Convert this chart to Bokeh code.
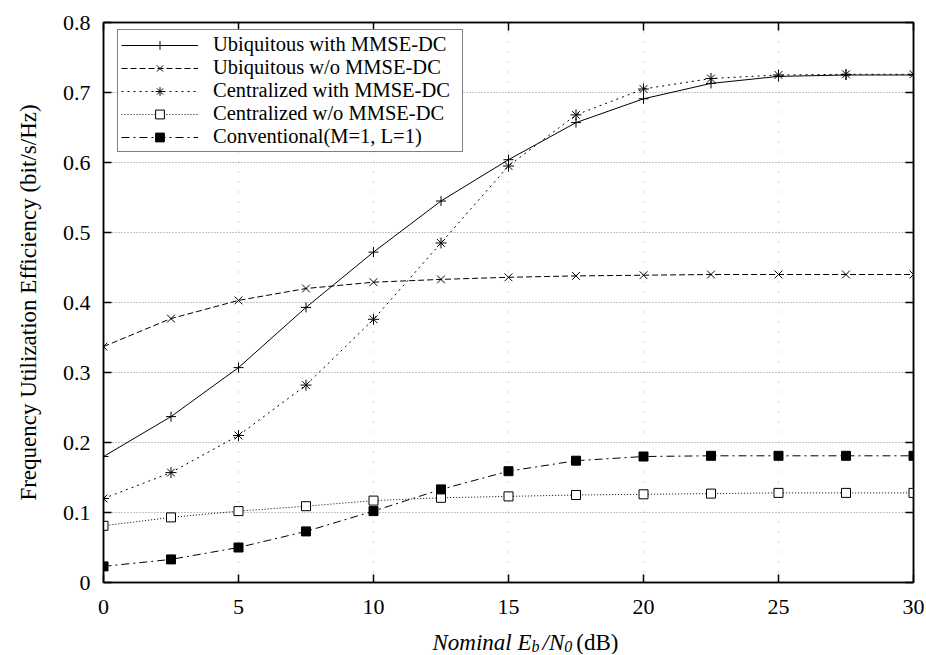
from bokeh.plotting import figure
from bokeh.layouts import column
from bokeh.models import Range1d, FixedTicker, LinearAxis, Legend, LegendItem
from bokeh.core.properties import value
from bokeh.embed import file_html
from bokeh.resources import INLINE

# ---------------- data ----------------
x_db = [0, 2.5, 5, 7.5, 10, 12.5, 15, 17.5, 20, 22.5, 25, 27.5, 30]
ubi_with = [0.180, 0.237, 0.307, 0.393, 0.472, 0.545, 0.604, 0.657, 0.691, 0.713, 0.723, 0.725, 0.725]
ubi_wo = [0.337, 0.377, 0.403, 0.420, 0.429, 0.433, 0.436, 0.438, 0.439, 0.440, 0.440, 0.440, 0.440]
cen_with = [0.120, 0.157, 0.210, 0.282, 0.376, 0.485, 0.595, 0.668, 0.705, 0.720, 0.725, 0.726, 0.726]
cen_wo = [0.081, 0.093, 0.102, 0.109, 0.117, 0.121, 0.123, 0.125, 0.126, 0.127, 0.128, 0.128, 0.128]
conventional = [0.023, 0.033, 0.050, 0.073, 0.102, 0.133, 0.159, 0.174, 0.180, 0.181, 0.181, 0.181, 0.181]

series_labels = ["Ubiquitous with MMSE-DC", "Ubiquitous w/o MMSE-DC",
                 "Centralized with MMSE-DC", "Centralized w/o MMSE-DC",
                 "Conventional(M=1, L=1)"]

x_ticks = [0, 5, 10, 15, 20, 25, 30]
y_ticks = [0, 0.1, 0.2, 0.3, 0.4, 0.5, 0.6, 0.7, 0.8]
y_tick_labels = ["0", "0.1", "0.2", "0.3", "0.4", "0.5", "0.6", "0.7", "0.8"]
y_axis_title = "Frequency Utilization Efficiency (bit/s/Hz)"
# x-axis title pieces: (text, is_subscript, italic)
x_title_parts = [("Nominal E", False, True), ("b", True, True), ("/N", False, True),
                 ("0", True, True), ("(dB)", False, False)]

FONT = "Liberation Serif"
W = 924

p = figure(width=W, height=624, output_backend="svg", toolbar_location=None,
           x_range=Range1d(x_ticks[0], x_ticks[-1]), y_range=Range1d(y_ticks[0], y_ticks[-1]),
           min_border_left=103, min_border_right=11, min_border_top=22, min_border_bottom=42)
p.background_fill_color = "white"
p.border_fill_color = "white"
p.outline_line_color = "black"
p.outline_line_width = 1.5

xa = p.xaxis[0]
ya = p.yaxis[0]
top_ax = LinearAxis()
right_ax = LinearAxis()
p.add_layout(top_ax, "above")
p.add_layout(right_ax, "right")

for ax, tk in ((xa, x_ticks), (top_ax, x_ticks), (ya, y_ticks), (right_ax, y_ticks)):
    ax.ticker = FixedTicker(ticks=tk)
    ax.major_tick_in = 8
    ax.major_tick_out = 0
    ax.minor_tick_line_color = None
    ax.axis_line_color = "black"
    ax.axis_line_width = 1.5
    ax.major_tick_line_color = "black"
    ax.major_tick_line_width = 1.5

for ax in (xa, ya):
    ax.major_label_text_font = FONT
    ax.major_label_text_font_size = "22px"
    ax.major_label_text_color = "black"
for ax, tk in ((top_ax, x_ticks), (right_ax, y_ticks)):
    ax.major_label_text_font_size = "0px"
    ax.major_label_standoff = 0
    ax.major_label_overrides = {t: "" for t in tk}

xa.major_label_standoff = 17
ya.major_label_standoff = 13
ya.major_label_overrides = {t: l for t, l in zip(y_ticks, y_tick_labels)}
ya.axis_label = y_axis_title
ya.axis_label_text_font = FONT
ya.axis_label_text_font_style = "normal"
ya.axis_label_text_font_size = "23px"
ya.axis_label_text_color = "black"
ya.axis_label_standoff = 19

# grid
p.xgrid.ticker = FixedTicker(ticks=x_ticks)
p.ygrid.ticker = FixedTicker(ticks=y_ticks)
p.ygrid.grid_line_color = "#8a8a8a"
p.ygrid.grid_line_dash = "1 2"
p.ygrid.grid_line_width = 1
p.xgrid.grid_line_color = "#b0b0b0"
p.xgrid.grid_line_dash = "1 9"
p.xgrid.grid_line_width = 1

# series
ys = [ubi_with, ubi_wo, cen_with, cen_wo, conventional]
dashes = ["solid", "6 3", "2 4", "1 2", "8 4 2 4"]
markers = ["cross", "x", "asterisk", "square", "square"]
sizes = [10, 11, 11, 9, 9]
fills = ["black", "black", "black", "white", "black"]

items = []
for y, d, m, s, f, lab in zip(ys, dashes, markers, sizes, fills, series_labels):
    r1 = p.line(x_db, y, line_color="black", line_width=1, line_dash=d)
    r2 = p.scatter(x_db, y, marker=m, size=s, line_color="black", line_width=1,
                   fill_color=f)
    items.append(LegendItem(label=lab, renderers=[r1, r2]))

legend = Legend(items=items, location=(14, 430))
legend.margin = 0
legend.padding = 3
legend.spacing = 0
legend.glyph_width = 77
legend.glyph_height = 22
legend.label_height = 22
legend.label_width = 246
legend.label_standoff = 15
legend.label_text_font = FONT
legend.label_text_font_size = "20.5px"
legend.label_text_color = "black"
legend.border_line_color = "black"
legend.border_line_width = 1
legend.background_fill_color = "white"
legend.background_fill_alpha = 1
p.add_layout(legend, "center")

# strip below the plot carrying the x-axis title "Nominal E_b/N_0(dB)"
STRIP_H = 30
p2 = figure(width=W, height=STRIP_H, output_backend="svg", toolbar_location=None,
            title=None, x_axis_type=None, y_axis_type=None,
            x_range=p.x_range, y_range=Range1d(0, STRIP_H),
            min_border_left=103, min_border_right=11, min_border_top=0, min_border_bottom=0)
p2.grid.visible = False
p2.outline_line_color = None
p2.background_fill_color = "white"
p2.border_fill_color = "white"

big, small = 23, 16
em = {"Nominal E": 4.306, "b": 0.5, "/N": 0.945, "0": 0.5, "(dB)": 1.833}
gap = {"b": 3, "0": 4}
widths = [em[t] * (small if sub else big) + gap.get(t, 0) for t, sub, it in x_title_parts]
xc = (x_ticks[0] + x_ticks[-1]) / 2
cur = -sum(widths) / 2 + 17
for (t, sub, it), w in zip(x_title_parts, widths):
    p2.text(x=[xc], y=[8.5 if sub else 12], text=[t], x_offset=cur,
            text_font=value(FONT), text_font_size=f"{small if sub else big}px",
            text_font_style="italic" if it else "normal", text_color="black",
            text_align="left", text_baseline="alphabetic")
    cur += w

layout = column(p, p2, spacing=0)
open("out.html", "w").write(file_html(layout, INLINE))
